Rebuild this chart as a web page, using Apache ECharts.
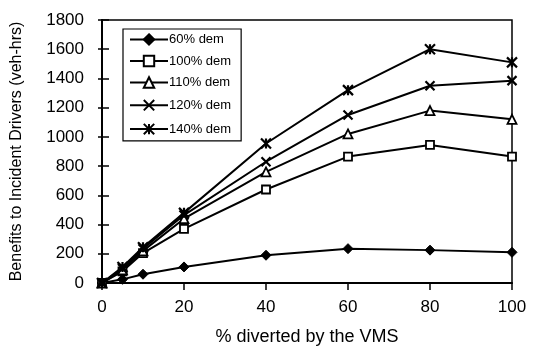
<!DOCTYPE html>
<html>
<head>
<meta charset="utf-8">
<script src="https://cdn.jsdelivr.net/npm/echarts@6/dist/echarts.min.js"></script>
<style>
  html, body { margin: 0; padding: 0; background: #fff; }
  #chart { width: 534px; height: 362px; }
</style>
</head>
<body>
<div id="chart"></div>
<script>
// % of traffic diverted by the VMS
const diverted = [0, 5, 10, 20, 40, 60, 80, 100];

// Benefits to incident drivers (veh-hrs) for each demand level
const dem60  = [0, 25, 60, 110, 190, 235, 225, 210];
const dem100 = [0, 80, 205, 370, 640, 865, 945, 865];
const dem110 = [0, 90, 220, 440, 760, 1020, 1180, 1120];
const dem120 = [0, 100, 235, 465, 830, 1150, 1350, 1385];
const dem140 = [0, 110, 245, 480, 955, 1320, 1600, 1510];

const seriesNames = ['60% dem', '100% dem', '110% dem', '120% dem', '140% dem'];
const yTicks = [0, 200, 400, 600, 800, 1000, 1200, 1400, 1600, 1800];
const xTicks = [0, 20, 40, 60, 80, 100];

const FONT = 'Liberation Sans, Arial, sans-serif';
const INK = '#000';

const markerStyles = [
  { symbol: 'diamond', symbolSize: 10, itemStyle: { color: INK, borderColor: INK, borderWidth: 1 } },
  { symbol: 'rect', symbolSize: 8, itemStyle: { color: '#fff', borderColor: INK, borderWidth: 1.8 } },
  { symbol: 'triangle', symbolSize: 9, itemStyle: { color: '#fff', borderColor: INK, borderWidth: 1.8 } },
  { symbol: 'path://M0,0L10,10M10,0L0,10', symbolSize: 9, itemStyle: { color: 'none', borderColor: INK, borderWidth: 2.2 } },
  { symbol: 'path://M0,0L10,10M10,0L0,10M5,0L5,10', symbolSize: 10, itemStyle: { color: 'none', borderColor: INK, borderWidth: 2.2 } }
];

const values = [dem60, dem100, dem110, dem120, dem140];

const series = values.map((vals, i) => ({
  name: seriesNames[i],
  type: 'line',
  data: vals.map((v, k) => [diverted[k], v]),
  symbol: markerStyles[i].symbol,
  symbolSize: markerStyles[i].symbolSize,
  symbolKeepAspect: true,
  showAllSymbol: true,
  lineStyle: { color: INK, width: 2 },
  itemStyle: markerStyles[i].itemStyle,
  z: 3 + i,
  animation: false
}));

const chart = echarts.init(document.getElementById('chart'), null, { renderer: 'canvas' });

chart.setOption({
  animation: false,
  backgroundColor: '#fff',
  grid: {
    left: 102, right: 22, top: 20, bottom: 79,
    outerBoundsMode: 'none',
    show: true, borderColor: INK, borderWidth: 1.5, backgroundColor: 'transparent'
  },
  legend: {
    left: 123, top: 29,
    orient: 'vertical',
    data: seriesNames,
    backgroundColor: '#fff',
    borderColor: INK,
    borderWidth: 1.2,
    borderRadius: 0,
    padding: [4, 10, 4, 6],
    itemWidth: 38,
    itemHeight: 13,
    itemGap: 8.5,
    textStyle: { fontFamily: FONT, fontSize: 13, color: INK, padding: [0, 0, 0, -4] }
  },
  xAxis: {
    type: 'value',
    min: xTicks[0], max: xTicks[xTicks.length - 1], interval: 20,
    name: '% diverted by the VMS',
    nameLocation: 'middle',
    nameGap: 45,
    nameTextStyle: { fontFamily: FONT, fontSize: 18, color: INK },
    axisLine: { show: true, lineStyle: { color: INK, width: 2 } },
    axisTick: { show: true, inside: false, length: 7, lineStyle: { color: INK, width: 1.5 } },
    axisLabel: { fontFamily: FONT, fontSize: 17, color: INK, margin: 16 },
    splitLine: { show: false }
  },
  yAxis: [{
    type: 'value',
    min: yTicks[0], max: yTicks[yTicks.length - 1], interval: 200,
    name: 'Benefits to Incident Drivers (veh-hrs)',
    nameLocation: 'middle',
    nameGap: 77,
    nameRotate: 90,
    nameTextStyle: { fontFamily: FONT, fontSize: 16, color: INK },
    axisLine: { show: true, lineStyle: { color: INK, width: 2 } },
    axisTick: { show: true, inside: true, length: 7, lineStyle: { color: INK, width: 1.5 } },
    axisLabel: { fontFamily: FONT, fontSize: 17, color: INK, margin: 18, formatter: v => String(v) },
    splitLine: { show: false }
  }, {
    // outer half of the crossing y ticks
    type: 'value',
    position: 'left',
    min: yTicks[0], max: yTicks[yTicks.length - 1], interval: 200,
    axisLine: { show: false },
    axisTick: { show: true, inside: false, length: 4, lineStyle: { color: INK, width: 1.5 } },
    axisLabel: { show: false },
    splitLine: { show: false }
  }],
  series: series
});
</script>
</body>
</html>
